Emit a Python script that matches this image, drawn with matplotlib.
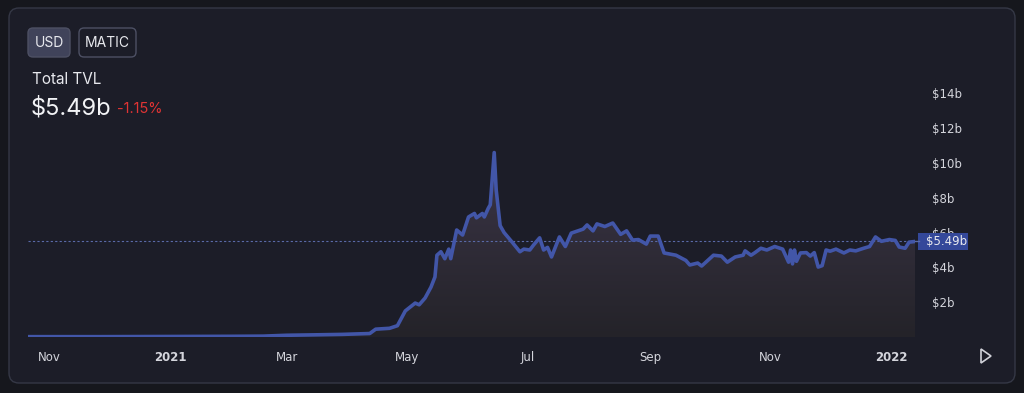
import pandas as pd
import numpy as np
import matplotlib
matplotlib.use("Agg")
import matplotlib.pyplot as plt
import matplotlib.dates as mdates
from matplotlib.patches import FancyBboxPatch, Polygon, Rectangle

# TVL in $ billions
dates = [
    "2020-10-21", "2020-11-27", "2021-01-01", "2021-02-01", "2021-02-17", "2021-03-01",
    "2021-03-13", "2021-03-29", "2021-04-12", "2021-04-15", "2021-04-22", "2021-04-26",
    "2021-04-30", "2021-05-05", "2021-05-07", "2021-05-10", "2021-05-13", "2021-05-15",
    "2021-05-16", "2021-05-18", "2021-05-20", "2021-05-22", "2021-05-23", "2021-05-26",
    "2021-05-29", "2021-06-01", "2021-06-04", "2021-06-05", "2021-06-08", "2021-06-09",
    "2021-06-11", "2021-06-12", "2021-06-14", "2021-06-15", "2021-06-17", "2021-06-19",
    "2021-06-23", "2021-06-27", "2021-06-29", "2021-07-02", "2021-07-04", "2021-07-07",
    "2021-07-09", "2021-07-11", "2021-07-13", "2021-07-17", "2021-07-20", "2021-07-23",
    "2021-07-29", "2021-07-31", "2021-08-03", "2021-08-05", "2021-08-09", "2021-08-13",
    "2021-08-17", "2021-08-20", "2021-08-23", "2021-08-26", "2021-08-30", "2021-09-01",
    "2021-09-05", "2021-09-08", "2021-09-14", "2021-09-19", "2021-09-21", "2021-09-25",
    "2021-09-27", "2021-10-03", "2021-10-07", "2021-10-10", "2021-10-14", "2021-10-18",
    "2021-10-19", "2021-10-22", "2021-10-24", "2021-10-27", "2021-10-30", "2021-11-03",
    "2021-11-07", "2021-11-10", "2021-11-11", "2021-11-12", "2021-11-13", "2021-11-14",
    "2021-11-16", "2021-11-19", "2021-11-21", "2021-11-23", "2021-11-25", "2021-11-27",
    "2021-11-29", "2021-12-01", "2021-12-04", "2021-12-08", "2021-12-11", "2021-12-14",
    "2021-12-18", "2021-12-21", "2021-12-24", "2021-12-27", "2021-12-31", "2022-01-03",
    "2022-01-05", "2022-01-08", "2022-01-10", "2022-01-13",
]
tvl = [
    0.02, 0.02, 0.03, 0.04, 0.05, 0.10,
    0.12, 0.15, 0.20, 0.45, 0.50, 0.65,
    1.50, 1.95, 1.85, 2.24, 2.87, 3.45,
    4.70, 4.90, 4.50, 5.05, 4.50, 6.15,
    5.86, 6.90, 7.10, 6.85, 7.10, 6.90,
    7.40, 7.60, 10.60, 8.45, 6.40, 6.00,
    5.46, 4.90, 5.05, 5.00, 5.30, 5.70,
    5.00, 5.15, 4.60, 5.75, 5.20, 5.97,
    6.20, 6.44, 6.10, 6.50, 6.35, 6.55,
    5.90, 6.10, 5.57, 5.60, 5.34, 5.80,
    5.80, 4.83, 4.70, 4.40, 4.14, 4.25,
    4.08, 4.70, 4.65, 4.30, 4.60, 4.70,
    4.95, 4.70, 4.85, 5.10, 5.00, 5.20,
    5.05, 4.30, 5.00, 4.20, 5.00, 4.35,
    4.83, 4.85, 4.65, 4.85, 4.02, 4.10,
    5.00, 4.93, 5.05, 4.83, 5.00, 4.95,
    5.10, 5.20, 5.75, 5.50, 5.60, 5.55,
    5.17, 5.10, 5.45, 5.49,
]
current = 5.49
change = "-1.15%"
y_ticks = [2, 4, 6, 8, 10, 12, 14]
x_ticks = ["2020-11-01", "2021-01-01", "2021-03-01", "2021-05-01",
           "2021-07-01", "2021-09-01", "2021-11-01", "2022-01-01"]
x_labels = ["Nov", "2021", "Mar", "May", "Jul", "Sep", "Nov", "2022"]

W, H = 1024, 393
BG = "#16171d"
CARD = "#1c1d28"
LINE = "#4256a8"
TXT = "#d4d5dc"

fig = plt.figure(figsize=(W / 100, H / 100), dpi=100, facecolor=BG)

# background layer in pixel coordinates
bg = fig.add_axes([0, 0, 1, 1])
bg.set_xlim(0, W)
bg.set_ylim(H, 0)
bg.axis("off")
bg.add_patch(FancyBboxPatch((9, 8), 1006, 375, boxstyle="round,pad=0,rounding_size=10",
                            fc=CARD, ec="#353846", lw=1))
bg.add_patch(FancyBboxPatch((28, 28), 42, 29, boxstyle="round,pad=0,rounding_size=5",
                            fc="#40435a", ec="#4d5064", lw=1))
bg.add_patch(FancyBboxPatch((79, 28), 57, 29, boxstyle="round,pad=0,rounding_size=5",
                            fc="none", ec="#4d5064", lw=1))
bg.text(49, 43, "USD", color="#e8e9ee", fontsize=10, ha="center", va="center", family="Inter")
bg.text(107.5, 43, "MATIC", color="#e8e9ee", fontsize=10, ha="center", va="center", family="Inter")
bg.text(32, 80, "Total TVL", color="#e8e9ee", fontsize=11, va="center", family="Inter")
bg.text(31, 108, f"${current:.2f}b", color="#f2f3f6", fontsize=17, va="center", family="Inter")
bg.text(117, 109, change, color="#e03434", fontsize=10.5, va="center", family="Inter")
bg.add_patch(Polygon([[981, 349], [981, 363], [991, 356]], closed=True, fc="none",
                     ec="#d0d1d8", lw=1.2))

# chart area: x 28..915 px, y 70..337 px
ymax = 267 / 17.4
ax = fig.add_axes([28 / W, (H - 337) / H, (915 - 28) / W, (337 - 70) / H])
ax.patch.set_alpha(0)

x = mdates.date2num(pd.to_datetime(dates))
y = np.array(tvl)

# gradient fill under the line
grad = np.linspace(0, 1, 256).reshape(-1, 1)
cmap = matplotlib.colors.LinearSegmentedColormap.from_list("f", ["#242329", "#3b3547"])
im = ax.imshow(grad, extent=[x[0], x[-1], 0, y.max()], origin="lower", aspect="auto",
               cmap=cmap, zorder=1)
poly = ax.fill_between(x, y, 0, color="none", lw=0)
im.set_clip_path(poly.get_paths()[0], transform=ax.transData)

ax.plot(x, y, color=LINE, lw=2.6, zorder=3, solid_joinstyle="round")
ax.axhline(current, color="#5a6aa8", lw=0.8, ls=(0, (2, 2)), zorder=2)

ax.set_xlim(x[0], x[-1])
ax.set_ylim(0, ymax)
for s in ax.spines.values():
    s.set_visible(False)

ax.yaxis.tick_right()
ax.set_yticks(y_ticks)
ax.set_yticklabels([f"${v}b" for v in y_ticks])
ax.tick_params(axis="y", length=0, pad=12, colors=TXT, labelsize=8.5)
ax.set_xticks(mdates.date2num(pd.to_datetime(x_ticks)))
ax.set_xticklabels(x_labels)
ax.tick_params(axis="x", length=0, pad=10, colors=TXT, labelsize=8.5)
for lbl in ax.get_xticklabels():
    if lbl.get_text() in ("2021", "2022"):
        lbl.set_fontweight("bold")

# current value label on right axis, drawn above the tick labels
top = fig.add_axes([0, 0, 1, 1])
top.set_xlim(0, W)
top.set_ylim(H, 0)
top.axis("off")
ycur = 337 - current * 17.4
top.plot([915, 919], [ycur, ycur], color="#5a6aa8", lw=1)
top.add_patch(Rectangle((918, ycur - 8.5), 50, 17, fc="#34489a", ec="none"))
top.text(926, ycur, f"${current:.2f}b", color="#e8e9ee", fontsize=8.5, va="center")

fig.savefig("out.png", dpi=100, facecolor=BG)
